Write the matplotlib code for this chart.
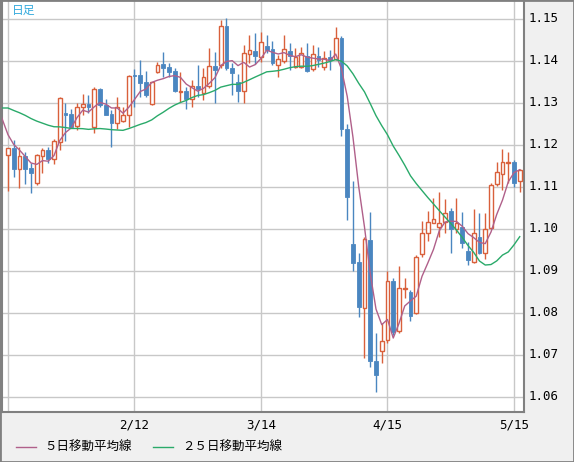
import matplotlib
matplotlib.use("Agg")
import matplotlib.pyplot as plt
import numpy as np

# closes before the visible window (inferred from the MA lines at the left edge)
pre_close = [1.1290, 1.1310, 1.1300, 1.1320, 1.1330, 1.1310, 1.1290, 1.1300, 1.1320, 1.1310,
             1.1300, 1.1290, 1.1310, 1.1330, 1.1300, 1.1280, 1.1300, 1.1290, 1.1310, 1.1290,
             1.1260, 1.1240, 1.1220, 1.1210]

opens = [1.1176,1.1193,1.1143,1.1174,1.1145,1.1110,1.1174,1.1188,1.1167,1.1207,
         1.1276,1.1274,1.1245,1.1290,1.1298,1.1243,1.1333,1.1295,1.1274,1.1252,
         1.1257,1.1271,1.1367,1.1367,1.1350,1.1298,1.1374,1.1393,1.1386,1.1376,
         1.1326,1.1329,1.1310,1.1340,1.1324,1.1340,1.1388,1.1390,1.1483,1.1383,
         1.1350,1.1329,1.1417,1.1424,1.1410,1.1436,1.1429,1.1390,1.1400,1.1424,
         1.1386,1.1386,1.1412,1.1381,1.1412,1.1386,1.1410,1.1405,1.1455,1.1238,
         1.0964,1.0921,1.0812,1.0974,1.0686,1.0710,1.0736,1.0876,1.0757,1.0857,
         1.0850,1.0800,1.0940,1.0990,1.1014,1.1005,1.1017,1.1043,1.1000,1.1005,
         1.0948,1.0921,1.0981,1.0943,1.1002,1.1107,1.1131,1.1157,1.1160,1.1114]
highs = [1.1193,1.1212,1.1195,1.1183,1.1157,1.1179,1.1193,1.1195,1.1214,1.1314,
         1.1300,1.1286,1.1300,1.1321,1.1319,1.1338,1.1336,1.1310,1.1283,1.1314,
         1.1290,1.1367,1.1381,1.1402,1.1376,1.1350,1.1398,1.1421,1.1395,1.1383,
         1.1374,1.1338,1.1355,1.1390,1.1383,1.1431,1.1421,1.1498,1.1502,1.1395,
         1.1369,1.1438,1.1462,1.1467,1.1469,1.1462,1.1448,1.1414,1.1462,1.1443,
         1.1431,1.1433,1.1443,1.1438,1.1433,1.1424,1.1426,1.1481,1.1460,1.1250,
         1.1114,1.0943,1.0981,1.1040,1.0752,1.0776,1.0900,1.0883,1.0912,1.0883,
         1.0855,1.0938,1.1019,1.1043,1.1074,1.1088,1.1071,1.1050,1.1074,1.1040,
         1.0969,1.1048,1.1038,1.1038,1.1110,1.1160,1.1190,1.1183,1.1164,1.1143]
lows = [1.1090,1.1124,1.1098,1.1107,1.1086,1.1105,1.1133,1.1157,1.1155,1.1188,
        1.1210,1.1240,1.1236,1.1271,1.1276,1.1229,1.1290,1.1271,1.1195,1.1238,
        1.1255,1.1243,1.1290,1.1314,1.1314,1.1295,1.1371,1.1362,1.1362,1.1326,
        1.1302,1.1286,1.1290,1.1314,1.1307,1.1336,1.1300,1.1383,1.1379,1.1319,
        1.1302,1.1300,1.1395,1.1393,1.1398,1.1419,1.1390,1.1362,1.1395,1.1379,
        1.1383,1.1383,1.1374,1.1376,1.1386,1.1379,1.1379,1.1402,1.1221,1.1021,
        1.0900,1.0790,1.0693,1.0671,1.0612,1.0681,1.0729,1.0748,1.0752,1.0836,
        1.0781,1.0798,1.0933,1.0971,1.1014,1.0981,1.0990,1.0943,1.0990,1.0955,
        1.0914,1.0919,1.0940,1.0929,1.1000,1.1102,1.1093,1.1110,1.1100,1.1088]
closes = [1.1193,1.1143,1.1174,1.1143,1.1133,1.1176,1.1188,1.1167,1.1210,1.1312,
          1.1271,1.1243,1.1290,1.1298,1.1290,1.1333,1.1295,1.1271,1.1252,1.1290,
          1.1271,1.1364,1.1364,1.1348,1.1319,1.1350,1.1390,1.1383,1.1374,1.1329,
          1.1329,1.1310,1.1340,1.1333,1.1362,1.1388,1.1379,1.1483,1.1383,1.1371,
          1.1329,1.1419,1.1426,1.1412,1.1445,1.1426,1.1395,1.1405,1.1429,1.1412,
          1.1410,1.1419,1.1376,1.1417,1.1402,1.1407,1.1402,1.1455,1.1238,1.1076,
          1.0919,1.0814,1.0976,1.0686,1.0652,1.0733,1.0876,1.0755,1.0860,1.0860,
          1.0793,1.0933,1.0990,1.1017,1.1024,1.1014,1.1038,1.1000,1.1014,1.0967,
          1.0926,1.0990,1.0943,1.1000,1.1105,1.1136,1.1160,1.1160,1.1110,1.1140]

tick_idx = [22, 44, 66, 88]
tick_labels = ["2/12", "3/14", "4/15", "5/15"]
yticks = [1.06, 1.07, 1.08, 1.09, 1.10, 1.11, 1.12, 1.13, 1.14, 1.15]

UP = "#d9603b"
DN = "#4a86c0"
MA5C = "#b0608a"
MA25C = "#2aaa6a"

allc = np.array(pre_close + closes)
n = len(closes)
npre = len(pre_close)
ma5 = np.array([allc[npre + i - 4:npre + i + 1].mean() for i in range(n)])
ma25 = np.array([allc[npre + i - 24:npre + i + 1].mean() for i in range(n)])
ma5_prev = allc[npre - 5:npre].mean()
ma25_prev = np.mean(allc[:npre + 1])

W, H = 574, 462
fig = plt.figure(figsize=(W / 100, H / 100), dpi=100, facecolor="#f0f0f0")
ax = fig.add_axes([2 / W, 1 - 412 / H, (524 - 2) / W, 412 / H])
ax.set_facecolor("white")

x = np.arange(n)
ax.set_xlim(-1.04, 89.74)
ax.set_ylim(1.15 - 393 / 4200, 1.15 + 19 / 4200)

for yv in yticks:
    ax.axhline(yv, color="#c8c8c8", lw=1, zorder=0)
for xv in [0] + tick_idx:
    ax.axvline(xv, color="#c8c8c8", lw=1, zorder=0)

bw = 0.68
for i in range(n):
    o, h, l, c = opens[i], highs[i], lows[i], closes[i]
    up = c >= o
    col = UP if up else DN
    top, bot = max(o, c), min(o, c)
    ax.plot([i, i], [top, h], color=col, lw=1, zorder=2, solid_capstyle="butt")
    ax.plot([i, i], [l, bot], color=col, lw=1, zorder=2, solid_capstyle="butt")
    hgt = max(top - bot, 0.00012)
    if up:
        ax.add_patch(plt.Rectangle((i - bw / 2, bot), bw, hgt, facecolor="white",
                                   edgecolor=col, lw=1, zorder=3))
    else:
        ax.add_patch(plt.Rectangle((i - bw / 2, bot), bw, hgt, facecolor=col,
                                   edgecolor=col, lw=0.6, zorder=3))

ax.plot(np.r_[-1.2, x], np.r_[ma5_prev + 0.0025, ma5], color=MA5C, lw=1, zorder=4)
ax.plot(np.r_[-1.2, x], np.r_[ma25_prev, ma25], color=MA25C, lw=1, zorder=4)

ax.set_xticks([])
ax.set_yticks([])
for s in ["top", "left", "right", "bottom"]:
    ax.spines[s].set_color("#808080")
    ax.spines[s].set_linewidth(1.5)

mono = ["DejaVu Sans Mono"]
for yv in yticks:
    fig.text(529 / W, ax.transData.transform((0, yv))[1] / H, f"{yv:.2f}",
             fontsize=9, family=mono, va="center", ha="left", color="black")
for xi, lab in zip(tick_idx, tick_labels):
    px = ax.transData.transform((xi, 0))[0]
    fig.text(px / W, 1 - 425 / H, lab, fontsize=9, family=mono, ha="center",
             va="center", color="black")

jp = ["Noto Sans CJK JP", "DejaVu Sans"]
fig.text(12 / W, 1 - 10 / H, "日足", fontsize=8.5, family=jp,
         color="#33aadd", va="center", ha="left")

fig.lines.append(plt.Line2D([16 / W, 36 / W], [1 - 447 / H] * 2, color=MA5C, lw=1,
                            transform=fig.transFigure))
fig.text(44 / W, 1 - 447 / H, "５日移動平均線", fontsize=9, family=jp, va="center",
         ha="left")
fig.lines.append(plt.Line2D([153 / W, 173 / W], [1 - 447 / H] * 2, color=MA25C, lw=1,
                            transform=fig.transFigure))
fig.text(182 / W, 1 - 447 / H, "２５日移動平均線", fontsize=9, family=jp, va="center",
         ha="left")

fig.patches.append(plt.Rectangle((0, 0), 1, 1, transform=fig.transFigure, fill=False,
                                 edgecolor="#808080", lw=2))

fig.savefig("out.png", dpi=100, facecolor=fig.get_facecolor())
